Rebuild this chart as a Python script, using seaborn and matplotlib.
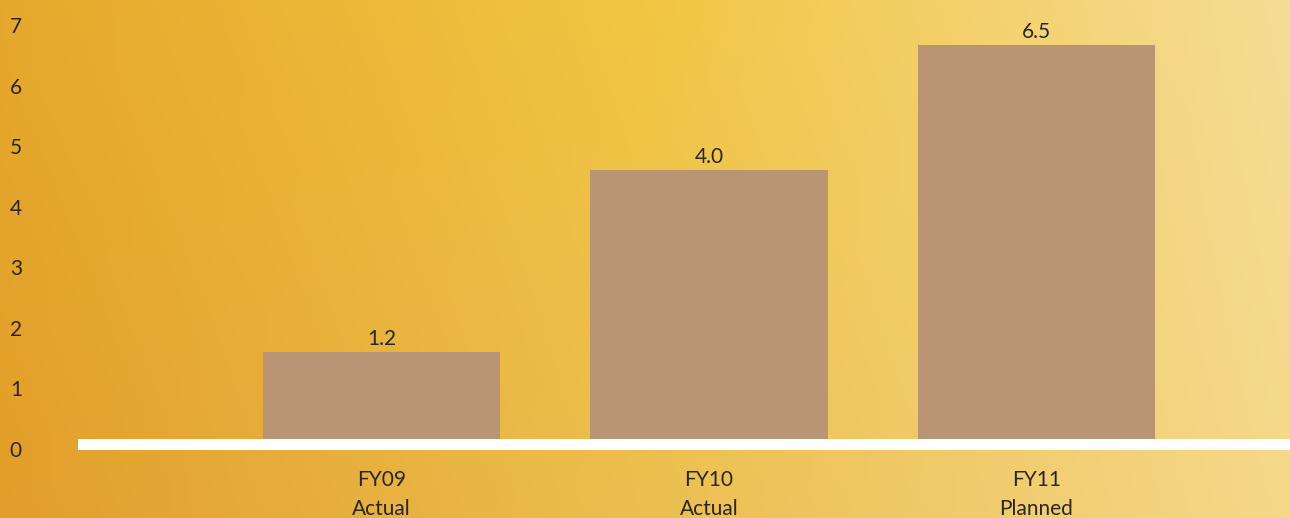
import numpy as np
import pandas as pd
import matplotlib
matplotlib.use('Agg')
import matplotlib.pyplot as plt
import seaborn as sns

# data
categories = ['FY09\nActual', 'FY10\nActual', 'FY11\nPlanned']
bar_heights = [1.60, 4.61, 6.67]      # bar tops measured on the y axis scale
value_labels = ['1.2', '4.0', '6.5']  # printed values
y_ticks = [0, 1, 2, 3, 4, 5, 6, 7]

W, H = 1290, 518


def main():
    sns.set_theme(style='white')
    plt.rcParams['font.family'] = ['Lato', 'DejaVu Sans']
    text_color = '#2a2622'

    fig = plt.figure(figsize=(W / 100, H / 100), dpi=100)

    # background gradient, orange at left to pale yellow at right
    bg = fig.add_axes([0, 0, 1, 1], zorder=-1)
    xs = np.linspace(0, 1, 300)
    ys = np.linspace(0, 1, 120)
    gx, gy = np.meshgrid(xs, ys)
    left_top = np.array([230, 168, 44]) / 255
    left_bot = np.array([226, 158, 42]) / 255
    mid_top = np.array([242, 198, 66]) / 255
    mid_bot = np.array([236, 190, 80]) / 255
    right_top = np.array([246, 220, 150]) / 255
    right_bot = np.array([245, 216, 136]) / 255
    img = np.zeros((len(ys), len(xs), 3))
    for c in range(3):
        top = np.interp(xs, [0, 0.5, 1], [left_top[c], mid_top[c], right_top[c]])
        bot = np.interp(xs, [0, 0.5, 1], [left_bot[c], mid_bot[c], right_bot[c]])
        img[:, :, c] = top[None, :] * (1 - gy) + bot[None, :] * gy
    bg.imshow(img, aspect='auto', extent=[0, 1, 1, 0])
    bg.axis('off')

    # main axes in pixel layout
    left_px, bottom_px = 40, 458
    ax = fig.add_axes([left_px / W, (H - bottom_px) / H, (W - left_px) / W, bottom_px / H])
    ax.set_facecolor('none')

    df = pd.DataFrame({'cat': categories, 'val': bar_heights})
    sns.barplot(data=df, x='cat', y='val', color='#b99574', saturation=1,
                width=0.724, ax=ax, zorder=2, linewidth=0, edgecolor='none')

    per_unit = 60.57
    ax.set_ylim(-(bottom_px - 449) / per_unit, 7 + 25 / per_unit)
    spacing = 327.5
    ax.set_xlim((left_px - 381.5) / spacing, (W - 381.5) / spacing)

    # white baseline, covers the foot of the bars
    ax.axhspan(-0.01, 0.165, xmin=(78 - left_px) / (W - left_px), xmax=1,
               color='white', zorder=3, lw=0)

    ax.bar_label(ax.containers[0], labels=value_labels, padding=2,
                 fontsize=15, color=text_color)

    ax.set_yticks(y_ticks)
    ax.set_yticklabels([str(t) for t in y_ticks])
    ax.tick_params(axis='y', length=0, pad=13, labelsize=15, labelcolor=text_color)
    ax.tick_params(axis='x', length=0, pad=9, labelsize=15, labelcolor=text_color)
    for lab in ax.get_xticklabels():
        lab.set_linespacing(1.55)
    ax.set_xlabel('')
    ax.set_ylabel('')
    sns.despine(ax=ax, left=True, bottom=True)

    fig.savefig('out.png', dpi=100)


if __name__ == '__main__':
    main()
